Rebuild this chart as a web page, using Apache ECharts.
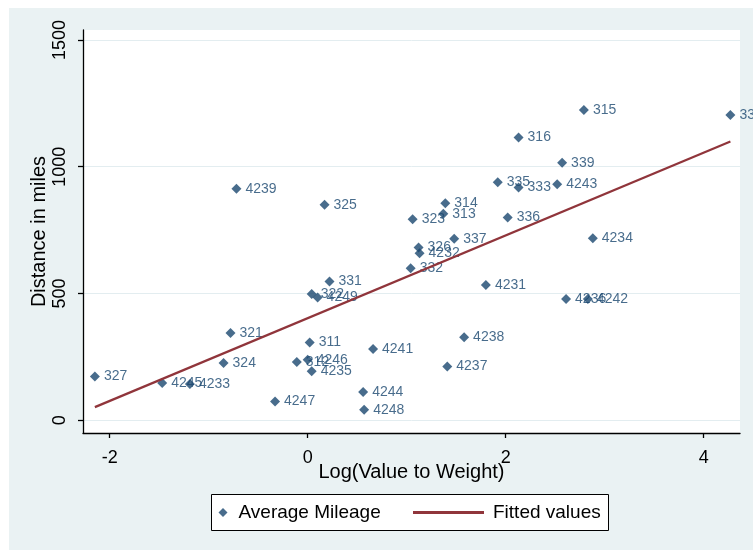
<!DOCTYPE html>
<html><head><meta charset="utf-8">
<script src="https://cdn.jsdelivr.net/npm/echarts@6/dist/echarts.min.js"></script>
<style>html,body{margin:0;padding:0;background:#fff}#c{width:753px;height:550px}</style>
</head><body><div id="c"></div>
<script>
// ---- data ----
const pointLabels = ['327','4245','4233','321','324','4247','311','312','4246','4235','4241','4244','4248','4237','4238',
  '4239','325','323','314','313','337','326','4232','332','331','322','4249','4231','315','334','316','339','335','333',
  '4243','336','4234','4236','4242'];
const logValueToWeight = [-2.15,-1.47,-1.19,-0.78,-0.85,-0.33,0.02,-0.11,0.00,0.04,0.66,0.56,0.57,1.41,1.58,
  -0.72,0.17,1.06,1.39,1.37,1.48,1.12,1.13,1.04,0.22,0.04,0.10,1.80,2.79,4.27,2.13,2.57,1.92,2.13,
  2.52,2.02,2.88,2.61,2.83];
const distanceMiles = [173,147,143,344,226,74,307,230,239,193,281,112,42,212,328,
  913,850,793,856,814,716,681,659,600,547,498,484,534,1224,1204,1115,1016,939,918,
  931,800,718,478,478];
const fittedX = [-2.15, 4.27];
const fittedY = [52, 1099];
const xTicks = [-2, 0, 2, 4];
const yTicks = [0, 500, 1000, 1500];

const font = '"Liberation Sans", Arial, sans-serif';
const navy = '#1a476f';
const maroon = '#90353b';

const scatterData = logValueToWeight.map((x, i) => ({value: [x, distanceMiles[i]], name: pointLabels[i]}));
const lineData = fittedX.map((x, i) => [x, fittedY[i]]);

const chart = echarts.init(document.getElementById('c'), null, {renderer: 'canvas'});
chart.setOption({
  animation: false,
  backgroundColor: '#eaf2f3',
  textStyle: {fontFamily: font},
  graphic: [
    {type: 'rect', shape: {x: 0, y: 0, width: 9, height: 550}, style: {fill: '#fff'}, silent: true},
    {type: 'rect', shape: {x: 0, y: 0, width: 753, height: 8}, style: {fill: '#fff'}, silent: true},
    {type: 'rect', shape: {x: 211.5, y: 494.5, width: 397, height: 36}, style: {fill: '#fff', stroke: '#000', lineWidth: 1}, silent: true}
  ],
  grid: {left: 83, top: 30, width: 657, height: 403, show: true, backgroundColor: '#fff', borderWidth: 0},
  xAxis: {
    type: 'value', min: -2.27, max: 4.367,
    name: 'Log(Value to Weight)', nameLocation: 'middle', nameGap: 29, nameMoveOverlap: false,
    nameTextStyle: {fontSize: 20, color: '#000', fontFamily: font},
    axisLine: {onZero: false, lineStyle: {color: '#000', width: 1.3}},
    axisTick: {show: true, length: 5, customValues: xTicks, lineStyle: {color: '#000', width: 1.3}},
    axisLabel: {customValues: xTicks, fontSize: 18, color: '#000', margin: 16, fontFamily: font},
    splitLine: {show: false}
  },
  yAxis: {
    type: 'value', min: -50, max: 1539,
    name: 'Distance in miles', nameLocation: 'middle', nameGap: 34, nameRotate: 90, nameMoveOverlap: false,
    nameTextStyle: {fontSize: 20, color: '#000', fontFamily: font},
    axisLine: {onZero: false, lineStyle: {color: '#000', width: 1.3}},
    axisTick: {show: true, length: 5, customValues: yTicks, lineStyle: {color: '#000', width: 1.3}},
    axisLabel: {customValues: yTicks, rotate: 90, fontSize: 18, color: '#000', margin: 14, fontFamily: font,
                formatter: v => String(v)},
    splitLine: {show: true, lineStyle: {color: '#e3edf0', width: 1}}
  },
  legend: [
    {data: ['Average Mileage'], left: 218.5, top: 503, padding: 0, itemWidth: 9, itemHeight: 9, icon: 'diamond',
     textStyle: {fontSize: 19, color: '#000', fontFamily: font, padding: [0, 0, 0, 6]}, selectedMode: false},
    {data: ['Fitted values'], left: 413, top: 503, padding: 0, itemWidth: 71, itemHeight: 3, icon: 'rect',
     textStyle: {fontSize: 19, color: '#000', fontFamily: font, padding: [0, 0, 0, 4]}, selectedMode: false}
  ],
  series: [
    {
      name: 'Average Mileage', type: 'scatter', symbol: 'diamond', symbolSize: 10,
      itemStyle: {color: navy},
      data: scatterData,
      label: {show: true, position: 'right', distance: 4, formatter: p => p.name,
              fontSize: 14, color: navy, fontFamily: font}
    },
    {
      name: 'Fitted values', type: 'line', symbol: 'none', showSymbol: false,
      lineStyle: {color: maroon, width: 2.2}, itemStyle: {color: maroon},
      data: lineData
    }
  ]
});
</script></body></html>
